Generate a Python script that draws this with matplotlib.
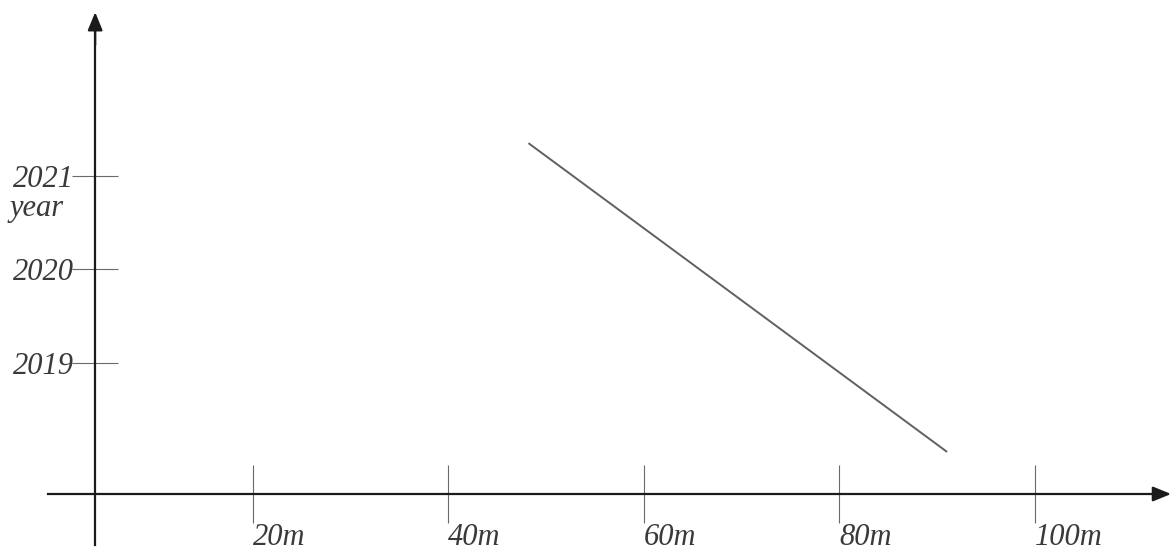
import matplotlib
matplotlib.use("Agg")
import matplotlib.pyplot as plt

# ---- data ----
distances = [20, 40, 60, 80, 100]
distance_labels = ["20m", "40m", "60m", "80m", "100m"]
years = [2019, 2020, 2021]
year_labels = ["2019", "2020", "2021"]
line_x = [48.2, 91.0]
line_y = [2021.35, 2018.05]

# axis geometry (in data units)
Y_AXIS_AT = 3.9          # x position of the vertical axis
X_AXIS_AT = 2017.6       # y position of the horizontal axis
X_MIN, X_MAX = -5.83, 114.1
Y_MIN, Y_MAX = 2016.98, 2022.88

plt.rcParams['font.family'] = ['Liberation Serif', 'DejaVu Serif']

fig = plt.figure(figsize=(11.73, 5.52), dpi=100)
ax = fig.add_axes([0, 0, 1, 1])
ax.set_xlim(X_MIN, X_MAX)
ax.set_ylim(Y_MIN, Y_MAX)

# the data line
ax.plot(line_x, line_y, color="#606060", lw=1.4, solid_capstyle="butt")

# spines as axes
for s in ["top", "right"]:
    ax.spines[s].set_visible(False)
ax.spines["left"].set_position(("data", Y_AXIS_AT))
ax.spines["bottom"].set_position(("data", X_AXIS_AT))
ax.spines["left"].set_bounds(2017.05, 2022.6)
ax.spines["bottom"].set_bounds(-0.92, 112.6)
for s in ["left", "bottom"]:
    ax.spines[s].set_linewidth(1.6)
    ax.spines[s].set_color("#1a1a1a")

# arrow heads
ax.annotate("", xy=(Y_AXIS_AT, 2022.75), xytext=(Y_AXIS_AT, 2022.4),
            arrowprops=dict(arrowstyle="-|>,head_length=1.1,head_width=0.45",
                            color="#1a1a1a", lw=1.6, shrinkA=0, shrinkB=0))
ax.annotate("", xy=(113.9, X_AXIS_AT), xytext=(112.0, X_AXIS_AT),
            arrowprops=dict(arrowstyle="-|>,head_length=1.1,head_width=0.45",
                            color="#1a1a1a", lw=1.6, shrinkA=0, shrinkB=0))

# ticks
ax.set_xticks(distances)
ax.set_xticklabels(distance_labels, ha="left", fontstyle="italic",
                   fontsize=22, color="#3a3a3a")
ax.set_yticks(years)
ax.set_yticklabels(year_labels, fontstyle="italic", fontsize=22, color="#3a3a3a")
ax.tick_params(axis="x", direction="inout", length=42, width=0.8,
               color="#6a6a6a", pad=0)
ax.tick_params(axis="y", direction="inout", length=33, width=0.8,
               color="#6a6a6a", pad=-1)

ax.set_ylabel("year", rotation=0, fontstyle="italic", fontsize=22,
              color="#3a3a3a", ha="center", va="center")
ax.yaxis.set_label_coords(0.031, 0.623)

fig.savefig("out.png", dpi=100, facecolor="white")
